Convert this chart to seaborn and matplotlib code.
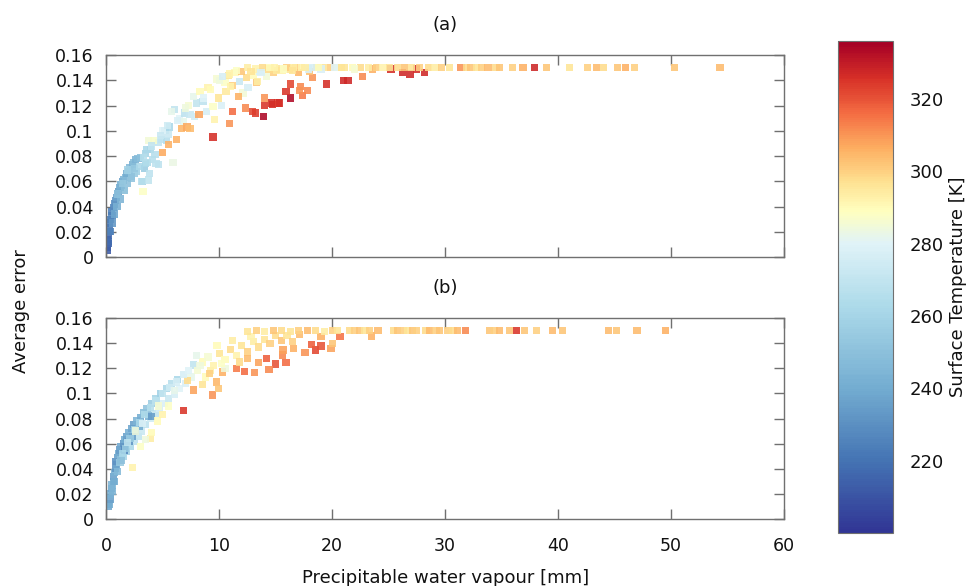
import matplotlib
matplotlib.use("Agg")
import matplotlib.pyplot as plt
import matplotlib.ticker as mticker
from matplotlib.colors import ListedColormap
import seaborn as sns
import numpy as np
import pandas as pd

# panel (a): precipitable water vapour [mm], average error, surface temperature [K]
a_pwv = [0.05, 0.1, 0.15, 0.1, 0.2, 0.25, 0.3, 0.3, 0.4, 0.5, 0.45, 0.6, 0.7, 0.8, 0.9, 1.0, 1.1, 1.2, 1.3, 1.4,
         1.5, 1.7, 1.8, 2.0, 2.1, 2.3, 2.4, 2.6, 2.8, 3.0, 2.2, 2.5, 2.7, 3.4, 3.5, 3.2, 3.8, 3.6, 3.25, 3.5,
         3.9, 4.1, 4.6, 3.1, 3.7, 4.4, 3.6, 4.3, 4.9, 5.3, 4.6, 5.2, 5.6, 5.45, 6.05, 3.7, 4.2, 5.0, 5.8, 6.5,
         5.9, 6.95, 7.4, 7.8, 6.8, 7.25, 8.0, 7.7, 8.3, 8.55, 8.85, 9.45, 9.6, 9.9, 10.2, 10.6, 10.5, 11.2, 11.8, 12.4,
         13.0, 13.3, 12.1, 11.7, 12.55, 13.4, 14.2, 14.8, 15.05, 9.45, 13.9, 12.95, 13.2, 11.2, 10.9, 12.3, 14.0, 14.7, 15.2, 14.0,
         6.2, 6.65, 7.15, 7.4, 5.5, 5.0, 8.2, 14.6, 15.3, 16.3, 15.9, 16.3, 17.2, 17.4, 17.8, 17.1, 19.5, 21.0, 21.4, 22.7,
         18.25, 17.0, 18.0, 25.2, 26.2, 26.9, 27.5, 28.2, 23.6, 9.0, 9.8, 10.8, 11.4, 12.0, 13.6, 14.4, 15.6, 16.2, 16.8,
         12.5, 13.2, 13.8, 14.5, 15.3, 16.0, 16.6, 17.3, 17.9, 18.6, 19.2, 19.9, 20.5, 21.1, 21.8, 22.5, 23.2, 23.9, 24.5, 25.1,
         25.8, 26.4, 27.0, 27.7, 28.5, 29.1, 29.7, 30.4, 31.4, 31.9, 32.3, 32.8, 33.2, 33.8, 34.5, 34.8, 36.0, 36.9, 37.9, 38.95,
         41.0, 42.6, 43.4, 44.0, 45.3, 46.0, 46.8, 50.3, 54.35, 19.0, 20.2, 22.0, 18.3,
         0.2, 0.35, 0.55, 0.75, 0.95, 1.25, 1.6, 1.9, 2.2, 2.5, 1.0, 1.4, 1.9, 2.9, 3.3, 4.0, 4.8, 5.4, 6.3, 7.0,
         8.6, 9.2, 10.0, 10.9, 11.5, 12.8, 13.7, 14.9, 15.7, 16.5, 17.6, 18.8, 20.8, 10.3, 11.0]
a_err = [0.005, 0.008, 0.011, 0.014, 0.017, 0.02, 0.023, 0.027, 0.03, 0.033, 0.036, 0.039, 0.042, 0.045, 0.047, 0.05, 0.052, 0.055, 0.057, 0.06,
         0.061, 0.063, 0.066, 0.068, 0.071, 0.073, 0.075, 0.077, 0.078, 0.079, 0.062, 0.066, 0.068, 0.07, 0.074, 0.06, 0.066, 0.075, 0.052, 0.082,
         0.085, 0.077, 0.073, 0.06, 0.061, 0.074, 0.085, 0.081, 0.093, 0.092, 0.091, 0.1, 0.103, 0.097, 0.117, 0.092, 0.092, 0.1, 0.115, 0.11,
         0.075, 0.114, 0.113, 0.111, 0.107, 0.12, 0.122, 0.127, 0.131, 0.123, 0.115, 0.119, 0.109, 0.126, 0.12, 0.131, 0.138, 0.136, 0.139, 0.142,
         0.144, 0.138, 0.13, 0.127, 0.134, 0.139, 0.143, 0.146, 0.148, 0.095, 0.111, 0.115, 0.114, 0.115, 0.106, 0.118, 0.12, 0.121, 0.122, 0.126,
         0.093, 0.102, 0.103, 0.102, 0.089, 0.083, 0.113, 0.122, 0.122, 0.126, 0.131, 0.137, 0.135, 0.128, 0.132, 0.132, 0.137, 0.14, 0.14, 0.143,
         0.142, 0.146, 0.147, 0.149, 0.146, 0.145, 0.149, 0.146, 0.149, 0.134, 0.141, 0.144, 0.146, 0.147, 0.147, 0.149, 0.148, 0.149, 0.15,
         0.15, 0.149, 0.15, 0.15, 0.149, 0.15, 0.15, 0.15, 0.149, 0.15, 0.15, 0.15, 0.15, 0.15, 0.15, 0.15, 0.15, 0.15, 0.15, 0.15,
         0.15, 0.15, 0.15, 0.15, 0.15, 0.15, 0.15, 0.15, 0.15, 0.15, 0.15, 0.15, 0.15, 0.15, 0.15, 0.15, 0.15, 0.15, 0.15, 0.15,
         0.15, 0.15, 0.15, 0.15, 0.15, 0.15, 0.15, 0.15, 0.15, 0.149, 0.15, 0.149, 0.15,
         0.012, 0.02, 0.027, 0.034, 0.04, 0.046, 0.053, 0.058, 0.064, 0.07, 0.05, 0.058, 0.069, 0.072, 0.079, 0.088, 0.096, 0.104, 0.108, 0.118,
         0.126, 0.133, 0.14, 0.145, 0.148, 0.147, 0.146, 0.15, 0.149, 0.148, 0.15, 0.15, 0.15, 0.143, 0.135]
a_temp = [212, 213, 215, 214, 216, 218, 220, 222, 224, 226, 223, 228, 230, 232, 236, 238, 234, 240, 242, 236,
          244, 246, 240, 244, 246, 242, 248, 244, 247, 250, 252, 255, 258, 256, 262, 258, 268, 264, 288, 260,
          262, 266, 268, 266, 270, 268, 262, 266, 268, 266, 270, 264, 262, 272, 270, 285, 287, 280, 282, 280,
          283, 268, 272, 275, 282, 286, 270, 282, 290, 268, 276, 288, 292, 296, 278, 295, 288, 300, 272, 298,
          290, 302, 285, 306, 276, 294, 285, 300, 295, 326, 334, 322, 324, 316, 310, 312, 325, 326, 324, 310,
          306, 305, 307, 304, 306, 307, 308, 326, 326, 333, 325, 322, 312, 314, 312, 310, 326, 327, 327, 312,
          310, 305, 303, 326, 327, 327, 326, 327, 306, 292, 286, 296, 290, 302, 278, 298, 292, 296, 300,
          294, 292, 298, 290, 296, 300, 294, 292, 278, 298, 296, 300, 292, 296, 290, 298, 294, 300, 292, 296,
          298, 302, 296, 300, 298, 294, 300, 296, 310, 298, 302, 296, 300, 304, 298, 302, 300, 306, 328, 302,
          296, 300, 304, 298, 302, 306, 300, 302, 304, 278, 280, 286, 276,
          218, 226, 232, 238, 242, 244, 248, 250, 252, 254, 250, 254, 258, 262, 266, 270, 272, 274, 278, 284,
          280, 290, 284, 292, 288, 296, 278, 292, 288, 296, 294, 290, 296, 276, 292]

# panel (b)
b_pwv = [0.2, 0.3, 0.35, 0.4, 0.45, 0.5, 0.6, 0.65, 0.7, 0.8, 0.9, 0.85, 1.0, 1.1, 1.2, 1.3, 1.5, 1.6, 1.8, 2.0,
         2.2, 2.4, 2.7, 3.0, 3.3, 3.6, 4.0, 4.4, 4.8, 5.3, 5.8, 6.3, 1.2, 1.5, 1.8, 2.1, 2.5, 2.8, 3.1, 3.5,
         3.9, 4.3, 4.7, 5.1, 5.5, 6.0, 6.5, 7.0, 7.5, 7.7, 8.1, 1.6, 2.0, 2.3, 2.6, 2.9, 3.7, 4.0, 2.3, 3.0,
         3.9, 4.0, 3.5, 4.5, 5.0, 5.5, 6.85, 9.4, 9.75, 9.9, 7.75, 8.5, 7.2, 8.8, 9.2, 10.3, 11.5, 12.2, 13.1, 13.5,
         14.2, 14.95, 14.4, 15.9, 15.6, 15.65, 16.6, 17.6, 18.5, 18.2, 19.0, 19.9, 20.0, 20.7, 19.0, 17.1, 23.45, 8.5, 9.0, 9.5,
         10.0, 10.5, 11.0, 11.5, 12.0, 12.5, 13.0, 13.5, 14.0, 14.5, 15.0, 15.5, 16.0, 16.5, 8.0, 9.8, 11.2, 12.8, 10.5, 11.8,
         12.5, 6.8, 7.3, 8.3, 9.1, 10.2,
         12.5, 13.3, 14.0, 14.8, 15.5, 16.3, 17.0, 17.8, 18.5, 19.3, 20.0, 20.5, 21.55, 22.0, 22.4, 22.9, 23.3, 24.05, 25.4, 25.8,
         26.3, 26.7, 27.1, 27.45, 28.3, 28.6, 29.2, 29.5, 30.25, 30.7, 31.1, 31.8, 33.9, 34.4, 34.8, 35.7, 36.35, 37.0, 38.1, 39.5,
         40.4, 44.5, 45.2, 47.0, 49.5,
         0.55, 0.75, 1.0, 1.3, 1.7, 2.1, 2.5, 2.9, 3.4, 3.9, 4.4, 5.0, 5.6, 6.2, 6.0, 4.6, 3.2, 2.6, 1.9, 1.4]
b_err = [0.01, 0.012, 0.016, 0.02, 0.024, 0.027, 0.03, 0.034, 0.037, 0.04, 0.043, 0.046, 0.049, 0.052, 0.055, 0.058, 0.06, 0.063, 0.066, 0.069,
         0.072, 0.075, 0.078, 0.081, 0.085, 0.088, 0.092, 0.096, 0.1, 0.104, 0.108, 0.111, 0.045, 0.05, 0.054, 0.058, 0.062, 0.066, 0.07, 0.075,
         0.08, 0.084, 0.088, 0.092, 0.096, 0.099, 0.104, 0.108, 0.113, 0.1226, 0.118, 0.055, 0.062, 0.066, 0.07, 0.074, 0.082, 0.0814, 0.041, 0.0576,
         0.064, 0.069, 0.063, 0.078, 0.083, 0.09, 0.0862, 0.0987, 0.109, 0.104, 0.1027, 0.107, 0.11, 0.113, 0.118, 0.117, 0.12, 0.1173, 0.1165, 0.1244,
         0.128, 0.1234, 0.119, 0.1244, 0.1305, 0.1345, 0.136, 0.1324, 0.1345, 0.139, 0.1377, 0.136, 0.1395, 0.145, 0.145, 0.147, 0.1457, 0.125, 0.129, 0.122,
         0.132, 0.127, 0.135, 0.13, 0.138, 0.133, 0.141, 0.137, 0.143, 0.14, 0.146, 0.142, 0.146, 0.141, 0.13, 0.138, 0.142, 0.145, 0.12, 0.125,
         0.128, 0.115, 0.118, 0.122, 0.116, 0.124,
         0.149, 0.15, 0.149, 0.15, 0.15, 0.149, 0.15, 0.15, 0.15, 0.149, 0.15, 0.15, 0.15, 0.15, 0.15, 0.15, 0.15, 0.15, 0.15, 0.15,
         0.15, 0.15, 0.15, 0.15, 0.15, 0.15, 0.15, 0.15, 0.15, 0.15, 0.15, 0.15, 0.15, 0.15, 0.15, 0.15, 0.15, 0.15, 0.15, 0.15,
         0.15, 0.15, 0.15, 0.15, 0.15,
         0.022, 0.03, 0.038, 0.047, 0.056, 0.064, 0.071, 0.077, 0.083, 0.089, 0.094, 0.1, 0.105, 0.109, 0.102, 0.09, 0.076, 0.07, 0.061, 0.052]
b_temp = [238, 240, 236, 242, 238, 244, 240, 236, 242, 232, 238, 230, 236, 240, 234, 238, 232, 240, 236, 242,
          238, 236, 244, 240, 248, 252, 256, 260, 258, 262, 266, 262, 255, 260, 258, 262, 268, 270, 272, 268,
          274, 270, 276, 278, 272, 276, 280, 278, 282, 270, 286, 228, 232, 236, 234, 240, 244, 235, 292, 288,
          294, 290, 284, 290, 292, 288, 325, 310, 305, 302, 308, 296, 298, 290, 294, 306, 314, 316, 310, 308,
          318, 320, 312, 316, 312, 308, 306, 310, 322, 318, 320, 308, 302, 315, 306, 304, 306, 290, 286, 292,
          296, 290, 298, 292, 296, 300, 294, 298, 296, 300, 298, 302, 296, 300, 282, 290, 294, 292, 284, 298,
          304, 276, 280, 284, 300, 288,
          296, 300, 294, 302, 298, 296, 300, 304, 298, 294, 300, 296, 298, 300, 302, 296, 300, 304, 298, 302,
          300, 296, 302, 300, 298, 304, 300, 302, 300, 298, 304, 312, 302, 300, 304, 302, 325, 302, 300, 304,
          302, 304, 302, 304, 306,
          244, 240, 246, 250, 254, 256, 258, 262, 264, 266, 268, 270, 274, 276, 282, 286, 278, 284, 270, 262]

T_MIN, T_MAX = 200, 336
FRAME = "#707070"
TEXT = "#111111"

# RdYlBu_r stretched so the colour stops sit where the reference colour bar has them
stop_temp = [200, 220, 240, 262, 280, 289, 300, 320, 336]
stop_frac = [0.0, 0.1, 0.2, 0.3, 0.4, 0.5, 0.63, 0.84, 1.0]
levels = np.linspace(T_MIN, T_MAX, 256)
CMAP = ListedColormap(plt.get_cmap("RdYlBu_r")(np.interp(levels, stop_temp, stop_frac)))

sns.set_style("ticks")
plt.rcParams["font.family"] = ["DejaVu Sans"]
plt.rcParams["font.size"] = 12
plt.rcParams["text.color"] = TEXT
plt.rcParams["axes.labelcolor"] = TEXT
plt.rcParams["xtick.labelcolor"] = TEXT
plt.rcParams["ytick.labelcolor"] = TEXT

fig = plt.figure(figsize=(9.67, 5.86), dpi=100)
ax_a = fig.add_axes([0.110, 0.5614, 0.7006, 0.3447])
ax_b = fig.add_axes([0.110, 0.1143, 0.7006, 0.3430])
cax = fig.add_axes([0.8666, 0.0904, 0.0569, 0.8396])

panels = [
    (ax_a, pd.DataFrame({"pwv": a_pwv, "err": a_err, "temp": a_temp}), "(a)"),
    (ax_b, pd.DataFrame({"pwv": b_pwv, "err": b_err, "temp": b_temp}), "(b)"),
]

for ax, df, title in panels:
    sns.scatterplot(data=df, x="pwv", y="err", hue="temp", palette=CMAP,
                    hue_norm=(T_MIN, T_MAX), marker="s", s=27, linewidth=0,
                    alpha=0.88, legend=False, ax=ax)
    ax.set_xlim(0, 60)
    ax.set_ylim(0, 0.16)
    ax.set_yticks([0, 0.02, 0.04, 0.06, 0.08, 0.1, 0.12, 0.14, 0.16])
    ax.yaxis.set_major_formatter(mticker.FormatStrFormatter("%g"))
    ax.set_xticks(range(0, 61, 10))
    ax.tick_params(direction="in", top=True, right=True, length=7, width=1,
                   color=FRAME, labelsize=12.5, labelcolor=TEXT, pad=9)
    ax.tick_params(axis="x", pad=13)
    for sp in ax.spines.values():
        sp.set_color(FRAME)
        sp.set_linewidth(1)
    ax.set_title(title, fontsize=13, pad=18, color=TEXT)
    ax.set_xlabel("")
    ax.set_ylabel("")

ax_a.tick_params(labelbottom=False)
ax_b.set_xlabel("Precipitable water vapour [mm]", fontsize=13, labelpad=10)
fig.text(0.022, 0.47, "Average error", rotation=90, ha="center", va="center", fontsize=13)

# colour bar
sm = plt.cm.ScalarMappable(cmap=CMAP, norm=plt.Normalize(T_MIN, T_MAX))
cbar = fig.colorbar(sm, cax=cax)
cbar.set_ticks([220, 240, 260, 280, 300, 320])
cbar.ax.tick_params(direction="in", left=True, right=True, length=6, width=1,
                    color=FRAME, labelsize=13, labelcolor=TEXT, pad=12)
cbar.outline.set_edgecolor(FRAME)
fig.text(958 / 967, 1 - 287 / 586, "Surface Temperature [K]", rotation=90,
         ha="center", va="center", fontsize=13)

fig.savefig("out.png", dpi=100)
